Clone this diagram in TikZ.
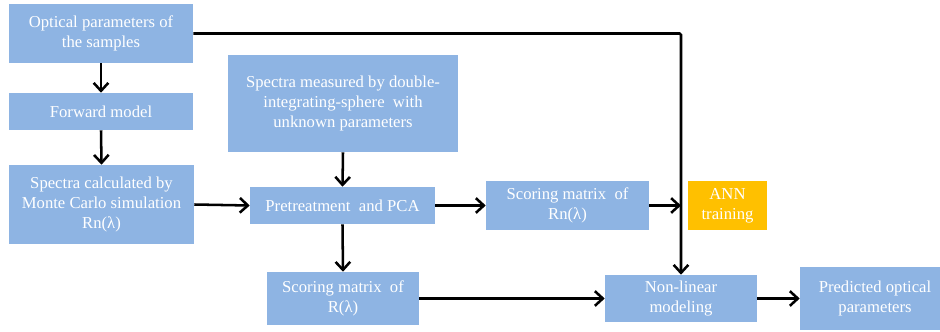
\documentclass[tikz,border=0pt]{standalone}
\usepackage{fontspec}
\setmainfont{Liberation Serif}
\usetikzlibrary{arrows.meta}
\definecolor{boxblue}{HTML}{8EB4E3}
\definecolor{annorange}{HTML}{FFC000}
\begin{document}
\begin{tikzpicture}[x=0.75pt,y=-0.75pt,
  box/.style={fill=boxblue, draw=none, text=white, align=center, inner sep=0pt,
    font=\fontsize{12.5}{15}\selectfont},
  annbox/.style={box, fill=annorange},
  conn/.style={line width=1.9pt, -{Straight Barb[length=6pt,width=11pt,line width=1.9pt]}}]
\useasboundingbox (0,0) rectangle (940,332);
\begin{scope}
\clip (0,0) rectangle (940,332);
\node[box, minimum width=138pt, minimum height=44.25pt] (b1) at (101,33.5) {Optical parameters of\\the samples};
\node[box, minimum width=138pt, minimum height=27.75pt] (fwd) at (101,111.5) {Forward model};
\node[box, minimum width=138.75pt, minimum height=59.25pt] (calc) at (101.5,204.5) {Spectra calculated by\\Monte Carlo simulation\\Rn(λ)};
\node[box, minimum width=172.5pt, minimum height=72.75pt] (meas) at (343,103.5) {Spectra measured by double-\\integrating-sphere\ \ with\\unknown parameters};
\node[box, minimum width=138.75pt, minimum height=27.75pt] (pre) at (342.5,205.5) {Pretreatment\ \ and PCA};
\node[box, minimum width=114pt, minimum height=39.75pt] (sR) at (343,298.5) {Scoring matrix\ \ of\\R(λ)};
\node[box, minimum width=122.25pt, minimum height=36.75pt] (sRn) at (567.5,205.5) {Scoring matrix\ \ of\\Rn(λ)};
\node[annbox, minimum width=59.25pt, minimum height=36.75pt] (ann) at (727.5,205.5) {ANN\\training};
\node[box, minimum width=114pt, minimum height=35.25pt] (nl) at (681,298.5) {Non-linear\\modeling};
\node[box, minimum width=112.5pt, minimum height=47.25pt] (pred) at (875,298.5) {Predicted optical\\parameters};
\end{scope}
\coordinate (corner) at (nl.north |- b1.east);
\draw[conn] (b1.south) -- (fwd.north);
\draw[conn] (fwd.south) -- (calc.north);
\draw[conn] (calc.east) -- (pre.west);
\draw[conn] (meas.south) -- (pre.north);
\draw[conn] (pre.east) -- (sRn.west);
\draw[conn] (pre.south) -- (sR.north);
\draw[conn] (sR.east) -- (nl.west);
\draw[conn] (nl.east) -- (pred.west);
\draw[conn, rounded corners=1pt] (b1.east) -- (corner) -- (nl.north);
\draw[conn] (sRn.east) -- (sRn.east -| corner);
\end{tikzpicture}
\end{document}
